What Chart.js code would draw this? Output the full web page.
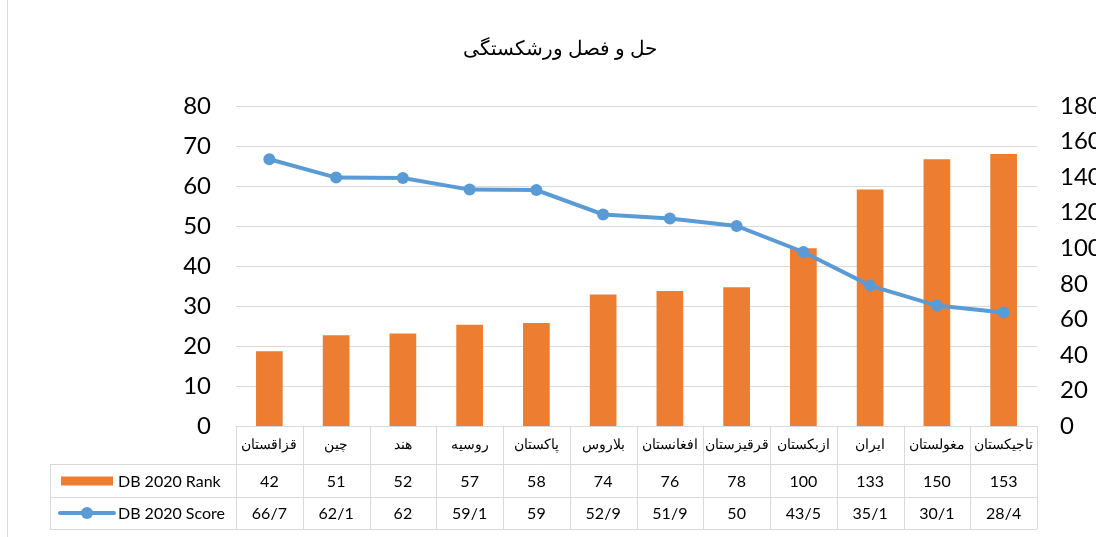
<!DOCTYPE html>
<html>
<head>
<meta charset="utf-8">
<script src="https://cdn.jsdelivr.net/npm/chart.js@4"></script>
<style>
  html, body { margin: 0; padding: 0; background: #fff; overflow: hidden; }
  #wrap { width: 1096px; height: 537px; }
</style>
</head>
<body>
<div id="wrap"><canvas id="chart" width="1096" height="537"></canvas></div>
<script>
const title = 'حل و فصل ورشکستگی';
const countries = ['قزاقستان', 'چین', 'هند', 'روسیه', 'پاکستان', 'بلاروس', 'افغانستان', 'قرقیزستان', 'ازبکستان', 'ایران', 'مغولستان', 'تاجیکستان'];
const rank = [42, 51, 52, 57, 58, 74, 76, 78, 100, 133, 150, 153];
const score = [66.7, 62.1, 62, 59.1, 59, 52.9, 51.9, 50, 43.5, 35.1, 30.1, 28.4];
const scoreLabels = ['66/7', '62/1', '62', '59/1', '59', '52/9', '51/9', '50', '43/5', '35/1', '30/1', '28/4'];
const rankName = 'DB 2020 Rank';
const scoreName = 'DB 2020 Score';

const orange = '#ed7d31';
const blue = '#5b9bd5';
const gridColor = '#d9d9d9';
const serif = '"Times New Roman", "Liberation Serif", "DejaVu Serif", serif';

// draws the title, the border and the data table under the plot
const tablePlugin = {
    id: 'dataTable',
    afterDraw(chart) {
        const ctx = chart.ctx;
        const x = chart.scales.x;
        const area = chart.chartArea;
        const n = countries.length;
        const cell = (area.right - area.left) / n;
        const rows = [area.bottom, 464, 497, 529];
        const tableLeft = 50;

        ctx.save();
        // outer border of chart
        ctx.strokeStyle = gridColor;
        ctx.lineWidth = 1;
        ctx.beginPath();
        ctx.moveTo(7.5, 0);
        ctx.lineTo(7.5, 537);
        ctx.stroke();

        // title
        ctx.fillStyle = '#000';
        ctx.font = '20px ' + serif;
        ctx.textAlign = 'center';
        ctx.textBaseline = 'middle';
        ctx.fillText(title, 560, 50);

        // table grid
        ctx.beginPath();
        for (let r = 1; r < rows.length; r++) {
            ctx.moveTo(tableLeft, rows[r] + 0.5);
            ctx.lineTo(area.right, rows[r] + 0.5);
        }
        ctx.moveTo(tableLeft + 0.5, rows[1]);
        ctx.lineTo(tableLeft + 0.5, rows[3]);
        for (let i = 0; i <= n; i++) {
            const px = Math.round(area.left + i * cell) + 0.5;
            ctx.moveTo(px, rows[0]);
            ctx.lineTo(px, rows[3]);
        }
        ctx.stroke();

        // cells
        for (let i = 0; i < n; i++) {
            const cx = x.getPixelForValue(i);
            ctx.font = '14px ' + serif;
            ctx.fillStyle = '#000';
            ctx.fillText(countries[i], cx, (rows[0] + rows[1]) / 2);
            ctx.font = '16px Lato, sans-serif';
            ctx.fillText(String(rank[i]), cx, (rows[1] + rows[2]) / 2 + 1);
            ctx.fillText(scoreLabels[i], cx, (rows[2] + rows[3]) / 2 + 1);
        }

        // legend keys
        const y1 = (rows[1] + rows[2]) / 2;
        const y2 = (rows[2] + rows[3]) / 2;
        ctx.fillStyle = orange;
        ctx.fillRect(61, y1 - 4, 52, 9);
        ctx.strokeStyle = blue;
        ctx.lineWidth = 4;
        ctx.lineCap = 'round';
        ctx.beginPath();
        ctx.moveTo(60, y2);
        ctx.lineTo(114, y2);
        ctx.stroke();
        ctx.fillStyle = blue;
        ctx.beginPath();
        ctx.arc(87, y2, 6, 0, Math.PI * 2);
        ctx.fill();

        ctx.fillStyle = '#000';
        ctx.font = '16px Lato, sans-serif';
        ctx.textAlign = 'left';
        ctx.fillText(rankName, 118, y1 + 1);
        ctx.fillText(scoreName, 118, y2 + 1);
        ctx.restore();
    }
};

new Chart(document.getElementById('chart').getContext('2d'), {
    data: {
        labels: countries,
        datasets: [
            {
                type: 'line',
                label: scoreName,
                data: score,
                yAxisID: 'y',
                borderColor: blue,
                backgroundColor: blue,
                borderWidth: 4,
                pointRadius: 6,
                pointBackgroundColor: blue,
                pointBorderWidth: 0,
                order: 0
            },
            {
                type: 'bar',
                label: rankName,
                data: rank,
                yAxisID: 'y1',
                backgroundColor: orange,
                barPercentage: 0.4,
                categoryPercentage: 1,
                order: 1
            }
        ]
    },
    options: {
        responsive: false,
        animation: false,
        layout: { padding: { top: 106, left: 0, right: 0, bottom: 0 } },
        plugins: { legend: { display: false }, title: { display: false }, tooltip: { enabled: false } },
        scales: {
            x: {
                ticks: { display: false },
                grid: { display: false },
                border: { display: false },
                afterFit: s => { s.height = 537 - 426; }
            },
            y: {
                position: 'left',
                min: 0, max: 80,
                ticks: { stepSize: 10, padding: 25, color: '#000', font: { family: 'Lato', size: 24 } },
                grid: { color: gridColor, drawTicks: false },
                border: { display: false },
                afterFit: s => { s.width = 236; }
            },
            y1: {
                position: 'right',
                min: 0, max: 180,
                ticks: { stepSize: 20, padding: 23, color: '#000', font: { family: 'Lato', size: 24 } },
                grid: { display: false, drawTicks: false },
                border: { display: false },
                afterFit: s => { s.width = 1096 - 1037; }
            }
        }
    },
    plugins: [tablePlugin]
});
</script>
</body>
</html>
